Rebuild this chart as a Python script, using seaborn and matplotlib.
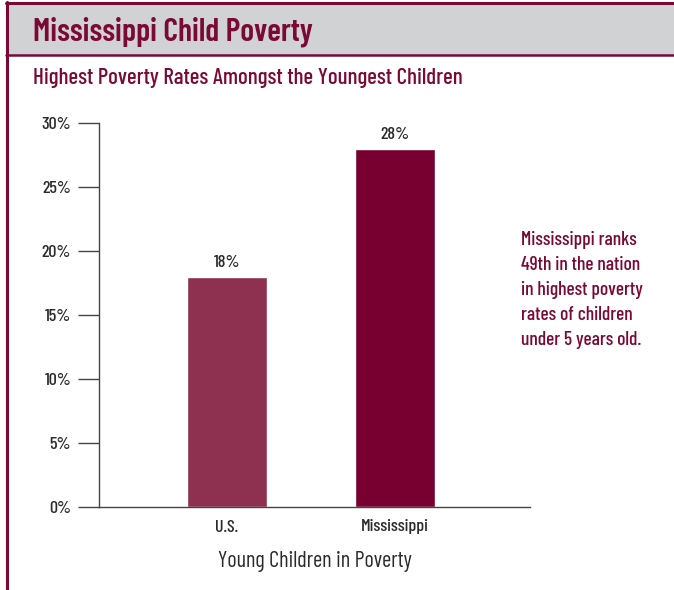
"""Mississippi child poverty bar chart"""
import pandas as pd
import seaborn as sns
import matplotlib.pyplot as plt
from matplotlib.patches import Rectangle
from matplotlib.lines import Line2D

# data
groups = ['U.S.', 'Mississippi']
poverty_rates = [18, 28]
bar_colors = ['#8E3150', '#780030']
y_ticks = [0, 5, 10, 15, 20, 25, 30]
y_tick_labels = ['0%', '5%', '10%', '15%', '20%', '25%', '30%']

title = 'Mississippi Child Poverty'
subtitle = 'Highest Poverty Rates Amongst the Youngest Children'
x_label = 'Young Children in Poverty'
note = ('Mississippi ranks\n49th in the nation\nin highest poverty\n'
        'rates of children\nunder 5 years old.')

maroon = '#7A0A35'
ink = '#2B2B2B'

sns.set_style('white')
plt.rcParams['font.family'] = ['Barlow Condensed', 'DejaVu Sans']
plt.rcParams['font.weight'] = 'medium'

df = pd.DataFrame({'group': groups, 'rate': poverty_rates})

W, H = 674, 590
fig = plt.figure(figsize=(W / 100, H / 100), dpi=100)

# header band and frame
fig.patches.append(Rectangle((6 / W, 1 - 55 / H), 1, 52 / H, transform=fig.transFigure,
                             facecolor='#D1D2D4', edgecolor='none', zorder=0))
fig.lines.append(Line2D([6 / W, 1], [1 - 2.5 / H] * 2, transform=fig.transFigure,
                        color=maroon, lw=2.2))
fig.lines.append(Line2D([6 / W, 1], [1 - 55 / H] * 2, transform=fig.transFigure,
                        color=maroon, lw=1.8))
fig.lines.append(Line2D([6.5 / W] * 2, [0, 1 - 1.5 / H], transform=fig.transFigure,
                        color=maroon, lw=2.2))

fig.text(33 / W, 1 - 32 / H, title, color=maroon, fontsize=23, fontweight='semibold',
         va='center', ha='left')
fig.text(33 / W, 1 - 78 / H, subtitle, color=maroon, fontsize=16.5, va='center', ha='left')
fig.text(521 / W, 1 - 290 / H, note, color=maroon, fontsize=14, va='center', ha='left',
         linespacing=1.5)

ax = fig.add_axes([99 / W, 83 / H, 431 / W, 384 / H])
sns.barplot(data=df, x='group', y='rate', hue='group', palette=bar_colors,
            width=0.476, saturation=1, legend=False, ax=ax)

for cont in ax.containers:
    ax.bar_label(cont, fmt='%d%%', padding=5, fontsize=13, color=ink)

ax.set_xlim(-0.762, 1.804)
ax.set_ylim(0, 30)
ax.set_yticks(y_ticks)
ax.set_yticklabels(y_tick_labels)
ax.tick_params(axis='y', length=15, width=1, color='#444444', labelsize=13,
               labelcolor=ink, pad=5, left=True)
ax.tick_params(axis='x', length=0, labelsize=13, labelcolor=ink, pad=9)
ax.set_xlabel(x_label, fontsize=16, color=ink, labelpad=12)
ax.set_ylabel('')

sns.despine(ax=ax, top=True, right=True)
for side in ['left', 'bottom']:
    ax.spines[side].set_color('#444444')
    ax.spines[side].set_linewidth(1)

fig.savefig('out.png', dpi=100)
